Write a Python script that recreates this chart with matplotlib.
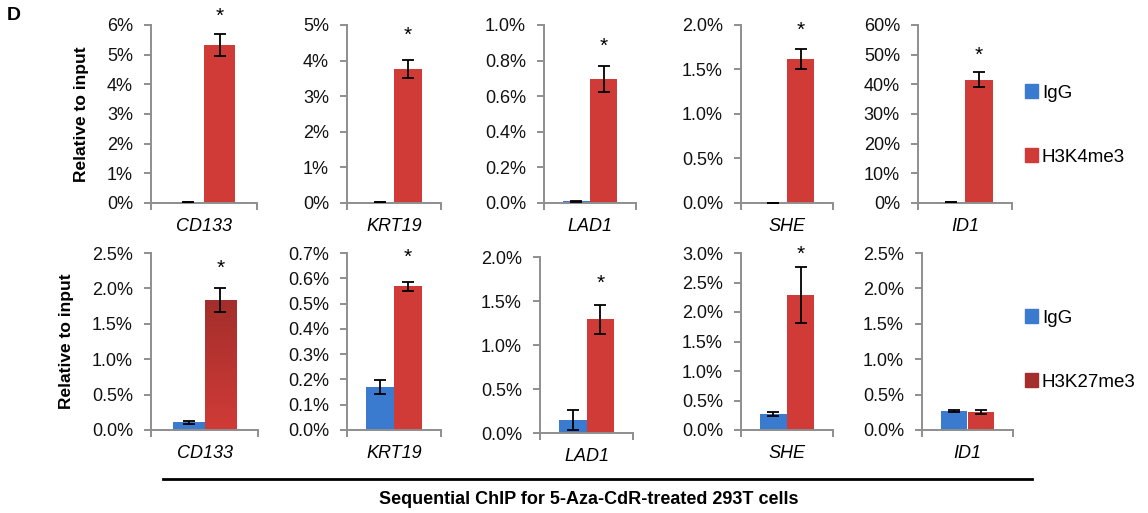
import numpy as np
import matplotlib
matplotlib.use("Agg")
import matplotlib.pyplot as plt
from matplotlib.patches import Patch
from matplotlib.lines import Line2D
from matplotlib.colors import LinearSegmentedColormap
from matplotlib.ticker import FuncFormatter

plt.rcParams['font.family'] = ['Liberation Sans', 'DejaVu Sans']

genes = ["CD133", "KRT19", "LAD1", "SHE", "ID1"]

# top row: H3K4me3 ChIP (% of input)
top_igg = [0.02, 0.02, 0.01, 0.005, 0.2]
top_igg_err = [0.0, 0.0, 0.002, 0.0, 0.0]
top_mark = [5.33, 3.76, 0.697, 1.615, 41.5]
top_mark_err = [0.36, 0.26, 0.072, 0.115, 2.5]
top_ymax = [6, 5, 1.0, 2.0, 60]
top_ystep = [1, 1, 0.2, 0.5, 10]
top_decimals = [0, 0, 1, 1, 0]
top_star = [True, True, True, True, True]

# bottom row: sequential H3K27me3 ChIP
bot_igg = [0.108, 0.171, 0.148, 0.271, 0.268]
bot_igg_err = [0.02, 0.028, 0.115, 0.03, 0.015]
bot_mark = [1.835, 0.569, 1.295, 2.288, 0.254]
bot_mark_err = [0.165, 0.018, 0.165, 0.475, 0.025]
bot_ymax = [2.5, 0.7, 2.0, 3.0, 2.5]
bot_ystep = [0.5, 0.1, 0.5, 0.5, 0.5]
bot_decimals = [1, 1, 1, 1, 1]
bot_star = [True, True, True, True, False]

blue = "#3b7bcf"
red = "#d03b37"
darkred = "#a32e2b"
spine_c = "#8e8e8e"

W, H = 1148, 513
fig = plt.figure(figsize=(W / 100, H / 100), dpi=100)

top_left = [151, 347, 544, 741, 918]
top_w = [106, 94, 92, 92, 94]
bot_left = [151, 347, 540, 741, 922]
bot_w = [107, 94, 93, 92, 91]
top_y = [(25, 203)] * 5
bot_y = [(253, 430), (253, 430), (257, 433), (253, 430), (253, 430)]
# star gap above error bar (points)
top_gap = [13, 18, 14.5, 13.7, 12.3]
bot_gap = [14.5, 17.3, 15.2, 9.4, 13]


def panel(x0, w, yy, gene, igg, igg_e, mark, mark_e, ymax, step, dec, star,
          gap, ylabel, gradient=False):
    ax = fig.add_axes([x0 / W, 1 - yy[1] / H, w / W, (yy[1] - yy[0]) / H])
    bw = 0.295
    ax.bar(0.5 - bw / 2, igg, bw, color=blue, zorder=2)
    bars = ax.bar(0.5 + bw / 2, mark, bw, color=red, zorder=2)
    ax.errorbar([0.5 - bw / 2, 0.5 + bw / 2], [igg, mark], yerr=[igg_e, mark_e],
                fmt='none', ecolor='black', elinewidth=1.3, capsize=4.5,
                capthick=1.3, zorder=3)
    if gradient:
        p = bars[0]
        grad = np.linspace(0, 1, 100).reshape(-1, 1)
        cmap = LinearSegmentedColormap.from_list("g", [red, darkred])
        im = ax.imshow(grad, extent=[p.get_x(), p.get_x() + p.get_width(), 0, p.get_height()],
                       origin='lower', aspect='auto', cmap=cmap, zorder=2.5)
        im.set_clip_path(p)
    if star:
        ax.annotate("*", (0.5 + bw / 2, mark + mark_e), xytext=(0, gap),
                    textcoords='offset points', ha='center', va='center',
                    fontsize=15, annotation_clip=False)
    ax.set_xlim(0, 1)
    ax.set_ylim(0, ymax)
    ticks = np.arange(0, ymax + step / 2, step)
    ax.set_yticks(ticks)
    ax.yaxis.set_major_formatter(FuncFormatter(lambda v, _: f"{v:.{dec}f}%"))
    ax.set_xticks([0.5], [gene], fontstyle='italic')
    ax.set_xticks([0, 1], minor=True)
    ax.tick_params(axis='x', which='major', length=0, pad=11, labelsize=13)
    ax.tick_params(axis='x', which='minor', length=5, width=1.4, color=spine_c)
    ax.tick_params(axis='y', length=5, width=1.4, color=spine_c, pad=8,
                   labelsize=13, labelcolor='#111111')
    for s in ['top', 'right']:
        ax.spines[s].set_visible(False)
    for s in ['left', 'bottom']:
        ax.spines[s].set_color(spine_c)
        ax.spines[s].set_linewidth(1.4)
    if ylabel:
        ax.set_ylabel("Relative to input", fontweight='bold', fontsize=12.5,
                      labelpad=13)
    return ax


for i, g in enumerate(genes):
    panel(top_left[i], top_w[i], top_y[i], g, top_igg[i], top_igg_err[i],
          top_mark[i], top_mark_err[i], top_ymax[i], top_ystep[i],
          top_decimals[i], top_star[i], top_gap[i], i == 0)
    panel(bot_left[i], bot_w[i], bot_y[i], g, bot_igg[i], bot_igg_err[i],
          bot_mark[i], bot_mark_err[i], bot_ymax[i], bot_ystep[i],
          bot_decimals[i], bot_star[i], bot_gap[i], i == 0, gradient=(i == 0))

leg_kw = dict(loc='center left', frameon=False, fontsize=13.5, handlelength=0.7,
              handleheight=0.7, handletextpad=0.2, labelspacing=2.5,
              borderpad=0, borderaxespad=0)
fig.legend(handles=[Patch(color=blue, label="IgG"), Patch(color=red, label="H3K4me3")],
           bbox_to_anchor=(1025 / W, 1 - 125 / H), **leg_kw)
fig.legend(handles=[Patch(color=blue, label="IgG"), Patch(color=darkred, label="H3K27me3")],
           bbox_to_anchor=(1025 / W, 1 - 350 / H), **leg_kw)

fig.text(7 / W, 1 - 16 / H, "D", fontweight='bold', fontsize=14, va='center')
fig.add_artist(Line2D([163 / W, 1032 / W], [1 - 479 / H] * 2, color='black', lw=2))
fig.text(589 / W, 1 - 499 / H, "Sequential ChIP for 5-Aza-CdR-treated 293T cells",
         fontweight='bold', fontsize=13, ha='center', va='center')

fig.savefig("out.png", dpi=100)
